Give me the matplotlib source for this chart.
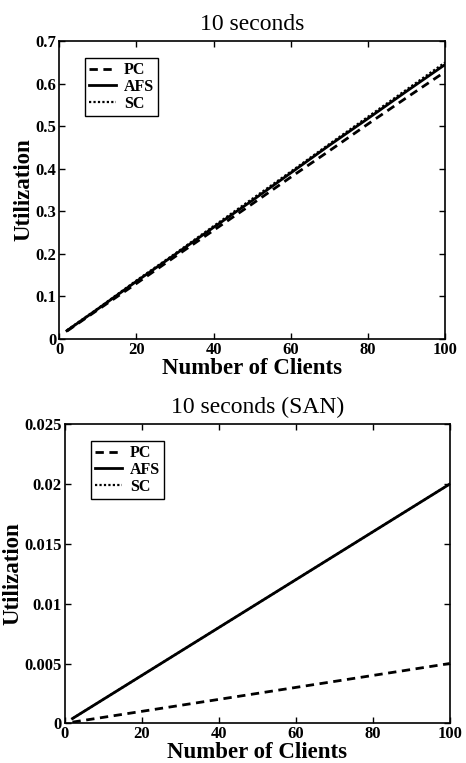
import matplotlib
matplotlib.use("Agg")
import matplotlib.pyplot as plt
from matplotlib.ticker import FuncFormatter

clientes = [2, 10, 20, 30, 40, 50, 60, 70, 80, 90, 100]

# 10 seconds
pc_10 = [0.018, 0.068, 0.130, 0.193, 0.255, 0.317, 0.380, 0.442, 0.505, 0.567, 0.628]
afs_10 = [0.019, 0.070, 0.135, 0.198, 0.262, 0.325, 0.390, 0.455, 0.518, 0.582, 0.645]
sc_10 = [0.020, 0.071, 0.137, 0.200, 0.265, 0.329, 0.393, 0.458, 0.522, 0.586, 0.650]

# 10 seconds (SAN)
pc_san = [0.0001, 0.0005, 0.001, 0.0015, 0.002, 0.0025, 0.003, 0.0035, 0.004, 0.0045, 0.005]
afs_san = [0.0004, 0.002, 0.004, 0.006, 0.008, 0.010, 0.012, 0.014, 0.016, 0.018, 0.020]
sc_san = [0.0004, 0.002, 0.004, 0.006, 0.008, 0.010, 0.012, 0.014, 0.016, 0.018, 0.020]

plt.rcParams['font.family'] = ['Liberation Serif', 'DejaVu Serif']

fig = plt.figure(figsize=(4.66, 7.63), dpi=100)


def dibujar(ax, pc, afs, sc, titulo, yticks):
    ax.plot(clientes, pc, color='black', linestyle=(0, (3, 2)), linewidth=2.0, label='PC')
    ax.plot(clientes, afs, color='black', linestyle='-', linewidth=2.0, label='AFS')
    ax.plot(clientes, sc, color='black', linestyle=(0, (1, 1)), linewidth=1.6, label='SC')
    ax.set_xlim(0, 100)
    ax.set_ylim(yticks[0], yticks[-1])
    ax.set_xticks([0, 20, 40, 60, 80, 100])
    ax.set_yticks(yticks)
    ax.yaxis.set_major_formatter(FuncFormatter(lambda v, p: '0' if v == 0 else ('%g' % v)))
    ax.tick_params(direction='in', top=True, right=True, length=4, width=1, pad=2)
    for lab in ax.get_xticklabels() + ax.get_yticklabels():
        lab.set_fontweight('bold')
        lab.set_fontsize(12)
    for s in ax.spines.values():
        s.set_linewidth(1.2)
    ax.set_title(titulo, fontsize=17, pad=8)
    ax.set_xlabel('Number of Clients', fontsize=16.5, fontweight='bold', labelpad=0)
    ax.set_ylabel('Utilization', fontsize=16.5, fontweight='bold', labelpad=1)
    leg = ax.legend(loc='upper left', bbox_to_anchor=(0.067, 0.943), borderaxespad=0,
                    fancybox=False, edgecolor='black', framealpha=1, handlelength=1.7,
                    prop={'weight': 'bold', 'size': 11.5}, borderpad=0.25,
                    labelspacing=0.05, handletextpad=0.5)
    leg.get_frame().set_linewidth(1.0)


ax1 = fig.add_axes([0.127, 0.556, 0.828, 0.390])
dibujar(ax1, pc_10, afs_10, sc_10, '10 seconds', [0, 0.1, 0.2, 0.3, 0.4, 0.5, 0.6, 0.7])

ax2 = fig.add_axes([0.139, 0.052, 0.826, 0.392])
dibujar(ax2, pc_san, afs_san, sc_san, '10 seconds (SAN)', [0, 0.005, 0.01, 0.015, 0.02, 0.025])

fig.savefig('out.png', dpi=100)
